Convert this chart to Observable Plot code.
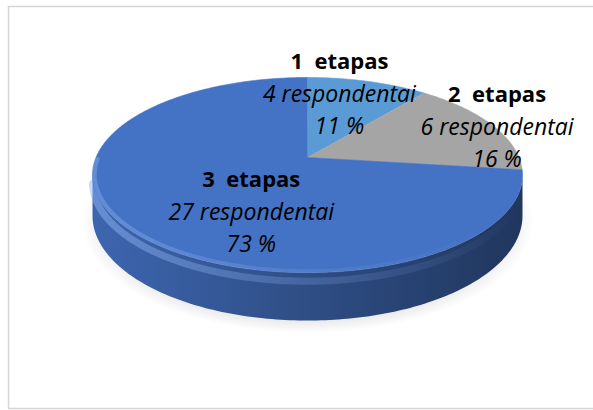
<!DOCTYPE html>
<html><head><meta charset="utf-8">
<script src="https://cdn.jsdelivr.net/npm/d3@7"></script>
<script src="https://cdn.jsdelivr.net/npm/@observablehq/plot@0.6"></script>
<style>
html,body{margin:0;padding:0;background:#fff;overflow:hidden;}
#chart svg{display:block;}
#chart svg text{white-space:pre;}
</style></head><body><div id="chart"></div>
<script>
// ---- data ----
const categories = ["1  etapas", "2  etapas", "3  etapas"];
const respondents = [4, 6, 27];
const percents = [11, 16, 73];
const sliceColors = ["#5B9BD5", "#A5A5A5", "#4472C4"];
const respondentWord = "respondentai";

// ---- 3D pie geometry (layout) ----
const W = 593, H = 410;
const cx = 307, cy = 157, A = 211.5, B = 94.4, k = 0.1795, T = 39.4;
const boxL = 8, boxT = 6, boxB = 408;
const rad = Math.PI / 180;
function proj(r, a, depth = 0) {
  const u = r * Math.sin(a), v = -r * Math.cos(a);
  const w = 1 - k * v;
  return {x: cx + A * u / w, y: cy + (B * v + depth) / w};
}
const arcs = d3.pie().sort(null).value(d => d)(respondents);

const topFace = [];
arcs.forEach((a, i) => {
  topFace.push({...proj(0, 0), key: i, color: sliceColors[i]});
  const n = Math.max(2, Math.ceil((a.endAngle - a.startAngle) / rad));
  for (let j = 0; j <= n; j++) {
    const t = a.startAngle + (a.endAngle - a.startAngle) * j / n;
    topFace.push({...proj(1, t), key: i, color: sliceColors[i]});
  }
});

const aR = Math.PI / 2 + Math.asin(k), aL = 2 * Math.PI - aR;
const side = [];
arcs.forEach((a, i) => {
  const s = Math.max(a.startAngle, aR), e = Math.min(a.endAngle, aL);
  if (e <= s) return;
  const n = Math.ceil((e - s) / rad);
  for (let j = 0; j <= n; j++) { const t = s + (e - s) * j / n; side.push({...proj(1, t), key: i}); }
  for (let j = n; j >= 0; j--) { const t = s + (e - s) * j / n; side.push({...proj(1, t, T), key: i}); }
});

const shadow = d3.range(0, 361, 2).map(d => proj(1.05, d * rad, T + 4));
const rimHi = d3.range(Math.ceil(aR / rad), Math.floor(aL / rad) + 1).map(d => proj(1, d * rad, T * 0.18));
const bevel = d3.range(Math.ceil(aR / rad) - 10, Math.floor(aL / rad) + 11).map(d => proj(0.99, d * rad));

const labelLayout = [{r: 0.76, a: 13}, {r: 1.0, a: 71.4}, {r: 0.59, a: 204}];
const labels = arcs.map((a, i) => ({
  ...proj(labelLayout[i].r, labelLayout[i].a * rad),
  name: categories[i],
  resp: `${respondents[i]} ${respondentWord}`,
  pct: `${percents[i]} %`
}));

function defsMark() {
  const defs = d3.create("svg:defs");
  sliceColors.forEach((c, i) => {
    const g = defs.append("linearGradient").attr("id", "side" + i).attr("x1", 0).attr("x2", 1).attr("y1", 0).attr("y2", 0);
    g.append("stop").attr("offset", 0).attr("stop-color", d3.color(c).darker(0.3).formatHex());
    g.append("stop").attr("offset", 0.45).attr("stop-color", d3.color(c).darker(1.0).formatHex());
    g.append("stop").attr("offset", 1).attr("stop-color", d3.color(c).darker(2.1).formatHex());
  });
  const sg = defs.append("radialGradient").attr("id", "shadowGrad");
  sg.append("stop").attr("offset", 0.8).attr("stop-color", "#000").attr("stop-opacity", 0.15);
  sg.append("stop").attr("offset", 1).attr("stop-color", "#000").attr("stop-opacity", 0);
  const hg = defs.append("linearGradient").attr("id", "rimGrad").attr("x1", 0).attr("x2", 1);
  hg.append("stop").attr("offset", 0).attr("stop-color", "#8fb6f5").attr("stop-opacity", 0.5);
  hg.append("stop").attr("offset", 0.5).attr("stop-color", "#8fb6f5").attr("stop-opacity", 0.22);
  hg.append("stop").attr("offset", 1).attr("stop-color", "#8fb6f5").attr("stop-opacity", 0);
  const bg = defs.append("linearGradient").attr("id", "bevelGrad").attr("x1", 0).attr("x2", 1);
  bg.append("stop").attr("offset", 0).attr("stop-color", "#9cc0f7").attr("stop-opacity", 0.35);
  bg.append("stop").attr("offset", 0.55).attr("stop-color", "#9cc0f7").attr("stop-opacity", 0.12);
  bg.append("stop").attr("offset", 1).attr("stop-color", "#9cc0f7").attr("stop-opacity", 0);
  return defs.node();
}

const font = "'Open Sans', sans-serif";
const chart = Plot.plot({
  width: W, height: H, margin: 0,
  x: {domain: [0, W], range: [0, W], axis: null},
  y: {domain: [0, H], range: [0, H], axis: null},
  color: {type: "identity"},
  style: {background: "#fff", fontFamily: font},
  marks: [
    defsMark,
    Plot.ruleY([boxT, boxB], {x1: boxL, x2: W, stroke: "#d6d6d6", strokeWidth: 1.5}),
    Plot.ruleX([boxL], {y1: boxT, y2: boxB, stroke: "#d6d6d6", strokeWidth: 1.5}),
    Plot.line(shadow, {x: "x", y: "y", fill: "url(#shadowGrad)", stroke: "none"}),
    Plot.line(side, {x: "x", y: "y", z: "key", fill: d => `url(#side${d.key})`, stroke: "none"}),
    Plot.line(rimHi, {x: "x", y: "y", stroke: "url(#rimGrad)", strokeWidth: 7}),
    Plot.line(topFace, {x: "x", y: "y", z: "key", fill: "color", stroke: "color", strokeWidth: 0.6}),
    Plot.line(bevel, {x: "x", y: "y", stroke: "url(#bevelGrad)", strokeWidth: 4}),
    Plot.text(labels, {x: "x", y: "y", text: "name", dy: -34, fontSize: 22, fontWeight: "bold", fill: "#000"}),
    Plot.text(labels, {x: "x", y: "y", text: "resp", dy: -1, fontSize: 23, fontStyle: "italic", fill: "#000"}),
    Plot.text(labels, {x: "x", y: "y", text: "pct", dy: 31, fontSize: 23, fontStyle: "italic", fill: "#000"})
  ]
});
document.getElementById("chart").append(chart);
</script></body></html>
